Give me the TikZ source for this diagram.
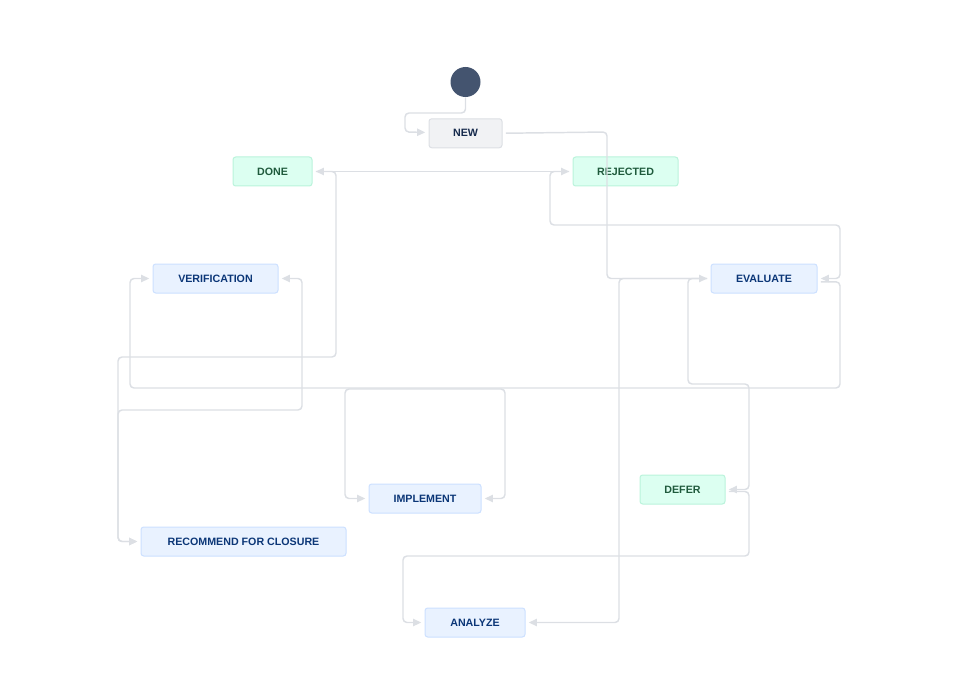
\documentclass[tikz,border=0pt]{standalone}
\usepackage{fontspec}
\setmainfont{Liberation Sans}
\usepackage{xcolor}
\usepackage{tikz}
\usetikzlibrary{arrows.meta, positioning}
\definecolor{startcol}{HTML}{44546F}
\definecolor{linecol}{HTML}{DCDFE4}
\definecolor{greybg}{HTML}{F1F2F4}
\definecolor{greybd}{HTML}{DCDFE4}
\definecolor{greytx}{HTML}{172B4D}
\definecolor{bluebg}{HTML}{E9F2FF}
\definecolor{bluebd}{HTML}{CCE0FF}
\definecolor{bluetx}{HTML}{0B3677}
\definecolor{greenbg}{HTML}{DCFFF1}
\definecolor{greenbd}{HTML}{BAF3DB}
\definecolor{greentx}{HTML}{1F5A3C}
\tikzstyle{state}   = [rectangle, rounded corners=2pt, minimum height=21.75pt,
                       inner sep=0pt, text centered, line width=0.75pt,
                       draw=bluebd, fill=bluebg, text=bluetx,
                       font=\fontsize{8}{9}\selectfont\bfseries]
\tikzstyle{done}    = [state, draw=greenbd, fill=greenbg, text=greentx]
\tikzstyle{flow}    = [draw=linecol, line width=1.1pt, rounded corners=3pt,
                       ->, >={Triangle[length=6pt,width=5.5pt]},
                       shorten <=2.5pt, shorten >=2.5pt]

\begin{document}
\begin{tikzpicture}[x=0.75pt, y=-0.75pt]
\useasboundingbox (0,0) rectangle (957,681);

\node (start) [circle, fill=startcol, minimum size=22.5pt, inner sep=0pt] at (465.5,82) {};
\node (new)   [state, draw=greybd, fill=greybg, text=greytx, minimum width=54.75pt,
               below=15.75pt of start] {NEW};
\node (closed)   [done, minimum width=59.25pt] at (272.5,171.5) {DONE};
\node (rejected) [done, minimum width=78.75pt] at (625.5,171.5) {REJECTED};
\node (verify)   [state, minimum width=93.75pt] at (215.5,278.5) {VERIFICATION};
\node (evaluate) [state, minimum width=79.5pt]  at (764,278.5)   {EVALUATE};
\node (implement)[state, minimum width=84pt]    at (425,498.5)   {IMPLEMENT};
\node (defer)    [done, minimum width=63.75pt]  at (682.5,489.5) {DEFER};
\node (recommend)[state, minimum width=153.75pt] at (243.5,541.5) {RECOMMEND FOR CLOSURE};
\node (analyze)  [state, minimum width=75pt]    at (475,622.5)   {ANALYZE};

\draw [flow, shorten <=0pt] (start) -- (465.5,113) -| (405,132) -- (new);
\draw [flow] (new.east) -- (607,132) |- (evaluate);
\draw [flow, <->] (closed) -- (rejected);
\draw [flow] (closed.east) -| (336,357) -| (118,541.5) -- (recommend);
\draw [flow, <->] (verify.east) -| (302,410) -| (118,541.5) -- (recommend);
\draw [flow] (rejected.west) -| (550,225) -| (840,278.5) -- (evaluate);
\draw [flow] ([yshift=-2.5pt]evaluate.east) -| (840,388) -| (130,278.5) -- (verify);
\draw [flow, <->] (implement.west) -| (345,389) -| (505,498.5) -- (implement.east);
\draw [flow] (evaluate.west) -| (688,384) -| (749,489.5) -- (defer);
\draw [flow] ([yshift=-1.5pt]defer.east) -| (749,556) -| (403,622.5) -- (analyze);
\draw [flow] (evaluate.west) -| (619,622.5) -- (analyze);

\end{tikzpicture}
\end{document}
